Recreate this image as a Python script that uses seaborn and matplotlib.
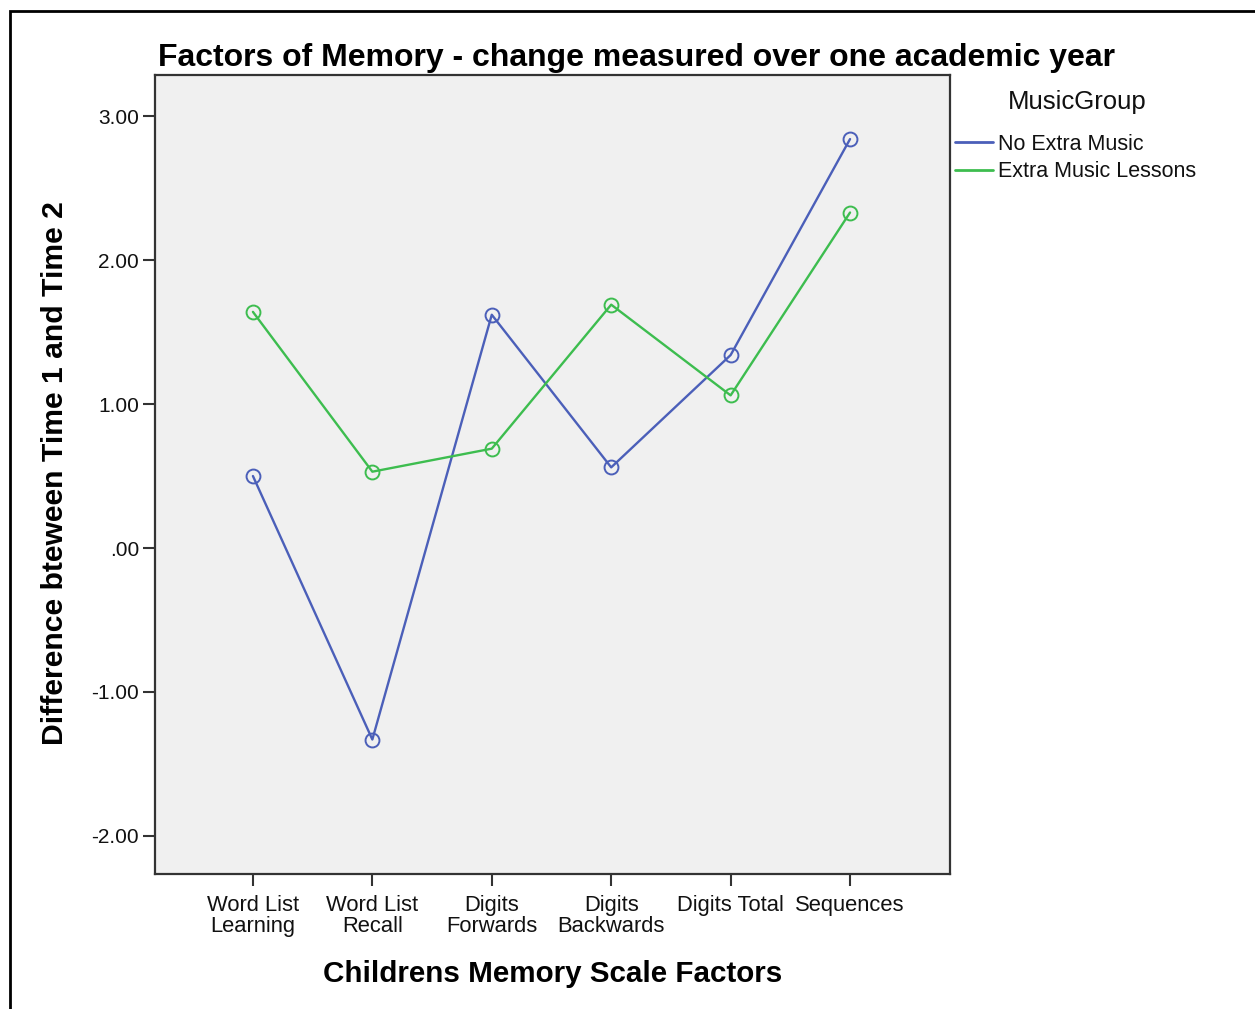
import matplotlib
matplotlib.use("Agg")
import matplotlib.pyplot as plt
from matplotlib.lines import Line2D
from matplotlib.patches import Rectangle
import seaborn as sns
import pandas as pd

# ---- data ----
factors = ["Word List\nLearning", "Word List\nRecall", "Digits\nForwards",
           "Digits\nBackwards", "Digits Total", "Sequences"]
groups = ["No Extra Music", "Extra Music Lessons"]
no_extra_music = [0.50, -1.33, 1.62, 0.56, 1.34, 2.84]
extra_music_lessons = [1.64, 0.53, 0.69, 1.69, 1.06, 2.33]
y_ticks = [-2.0, -1.0, 0.0, 1.0, 2.0, 3.0]
y_tick_labels = ["-2.00", "-1.00", ".00", "1.00", "2.00", "3.00"]
colors = ["#4b5fb9", "#3dbd4f"]

df = pd.DataFrame({
    "factor": factors * 2,
    "value": no_extra_music + extra_music_lessons,
    "group": [groups[0]] * len(factors) + [groups[1]] * len(factors),
})

sns.set_theme(style="white")
plt.rcParams["font.family"] = ["Liberation Sans", "DejaVu Sans"]

W, H = 1255, 1009
fig = plt.figure(figsize=(W / 100, H / 100), dpi=100)
ax = fig.add_axes([155 / W, 1 - 874 / H, (950 - 155) / W, (874 - 75) / H])
ax.set_facecolor("#f0f0f0")

for g, c in zip(groups, colors):
    sub = df[df["group"] == g]
    sns.lineplot(data=sub, x="factor", y="value", color=c, sort=False,
                 marker="o", markersize=10, markerfacecolor="none",
                 markeredgecolor=c, markeredgewidth=1.4, linewidth=1.7,
                 ax=ax, legend=False)

ax.set_xlim(-0.82, 5.837)
ax.set_ylim(-2.264, 3.285)
ax.set_yticks(y_ticks)
ax.set_yticklabels(y_tick_labels)
ax.set_xticks(range(len(factors)))
ax.set_xticklabels(factors, linespacing=1.0)
ax.set_xlabel("")
ax.set_ylabel("")
ax.tick_params(axis="both", which="both", direction="out", length=8.5,
               width=1.5, color="#333333", labelcolor="#111111",
               left=True, bottom=True)
ax.tick_params(axis="y", pad=3, labelsize=15)
ax.tick_params(axis="x", pad=6.5, labelsize=15.8)
for s in ax.spines.values():
    s.set_visible(True)
    s.set_color("#333333")
    s.set_linewidth(1.6)

fig.text(637 / W, 1 - 66 / H,
         "Factors of Memory - change measured over one academic year",
         ha="center", va="baseline", fontsize=23, fontweight="bold",
         color="black")
fig.text(553 / W, 1 - 982 / H, "Childrens Memory Scale Factors",
         ha="center", va="baseline", fontsize=21.3, fontweight="bold",
         color="black")
fig.text(55 / W, 1 - 473 / H, "Difference bteween Time 1 and Time 2",
         ha="center", va="center", rotation=90, fontsize=21.7,
         fontweight="bold", color="black")

# legend title
fig.text(1077 / W, 1 - 102 / H, "MusicGroup", ha="center", va="center",
         fontsize=18.5, color="#111111")
handles = [Line2D([0], [0], color=c, linewidth=2) for c in colors]
leg = fig.legend(handles, groups, loc="upper left",
                 bbox_to_anchor=(955 / W, 1 - 134 / H), frameon=False,
                 fontsize=15.5, borderpad=0,
                 handlelength=1.75, handletextpad=0.25, labelspacing=0.3,
                 borderaxespad=0)
for t in leg.get_texts():
    t.set_color("#111111")

fig.patches.append(Rectangle((10 / W, -0.1), 1.2, 1 - 11 / H + 0.1,
                             transform=fig.transFigure, fill=False,
                             edgecolor="black", linewidth=2))

fig.savefig("out.png", dpi=100)
